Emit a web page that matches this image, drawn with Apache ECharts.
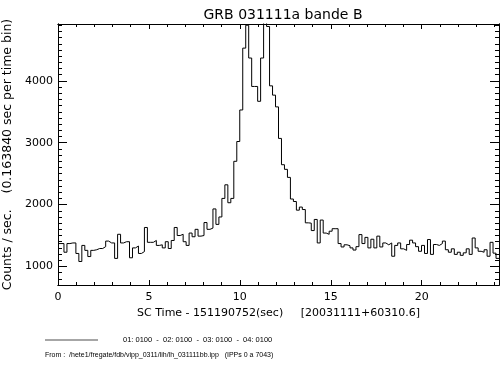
<!DOCTYPE html>
<html>
<head>
<meta charset="utf-8">
<script src="https://cdn.jsdelivr.net/npm/echarts@6/dist/echarts.min.js"></script>
<style>
  html, body { margin: 0; padding: 0; background: #ffffff; }
  #chart { width: 500px; height: 368px; }
</style>
</head>
<body>
<div id="chart"></div>
<script>
// time bin width in seconds
const binWidth = 0.16384;

// counts per second, one value per time bin
const counts = [
  1370, 1370, 1230, 1370, 1380, 1380, 1210, 1080, 1340, 1260,
  1160, 1260, 1270, 1290, 1290, 1320, 1410, 1380, 1380, 1130,
  1520, 1380, 1400, 1400, 1140, 1300, 1330, 1210, 1240, 1630,
  1390, 1390, 1420, 1340, 1350, 1300, 1400, 1290, 1420, 1630,
  1500, 1520, 1400, 1340, 1540, 1480, 1600, 1490, 1500, 1710,
  1600, 1620, 1930, 1680, 1800, 2100, 2320, 2030, 2100, 2700,
  3020, 3530, 4530, 4900, 4370, 3910, 3910, 3670, 4370, 5100,
  4880, 3920, 3770, 3580, 3070, 2645, 2570, 2440, 2090, 2050,
  1910, 1960, 1920, 1705, 1700, 1580, 1760, 1380, 1750, 1540,
  1520, 1570, 1610, 1610, 1370, 1315, 1350, 1335, 1300, 1265,
  1320, 1515, 1370, 1470, 1300, 1440, 1300, 1490, 1315, 1380,
  1350, 1380, 1165, 1340, 1380, 1285, 1260, 1355, 1425, 1380,
  1320, 1245, 1340, 1210, 1435, 1195, 1355, 1340, 1370, 1410,
  1270, 1230, 1285, 1195, 1230, 1180, 1220, 1285, 1195, 1460,
  1300, 1245, 1230, 1270, 1165, 1390, 1215, 1130
];

const yLabels = [1000, 2000, 3000, 4000];
const xLabels = [0, 5, 10, 15, 20];
const yMin = 700;
const yMax = 4920;
const xMax = counts.length * binWidth;

const titleText = "GRB 031111a bande B";
const xTitle = "SC Time - 151190752(sec)     [20031111+60310.6]";
const yTitle = "Counts / sec.    (0.163840 sec per time bin)";
const ippLine = "01: 0100  -  02: 0100  -  03: 0100  -  04: 0100";
const fromLine = "From :  /hete1/fregate/fdb/vipp_0311/lih/lh_031111bb.ipp   (IPPs 0 a 7043)";

// minor tick positions
const yMinor = [];
for (let v = 800; v < yMax; v += 100) {
  if (v % 1000 !== 0) yMinor.push(v);
}
const xMinor = [];
for (let v = 1; v < xMax; v += 1) {
  if (v % 5 !== 0) xMinor.push(v);
}

// step histogram points: bin start times, plus closing point for the last bin
const points = counts.map((c, i) => [i * binWidth, c]);
points.push([xMax, counts[counts.length - 1]]);

const font = "DejaVu Sans";
// onZero off, otherwise the left axes get shifted and their ticks flip outside
const axisLine = { show: true, onZero: false, lineStyle: { color: "#000", width: 1 } };
const gridBox = { left: 58, right: 1, top: 24, bottom: 83, containLabel: false, outerBoundsMode: "none" };

function yAxisDef(grid, position, ticks, len, labels) {
  return {
    type: "value",
    gridIndex: grid,
    position: position,
    min: yMin,
    max: yMax,
    axisLine: axisLine,
    splitLine: { show: false },
    axisTick: { show: true, inside: true, length: len, customValues: ticks,
      lineStyle: { color: "#000", width: 1 } },
    axisLabel: labels
      ? { show: true, customValues: yLabels, margin: 5, color: "#000",
          fontFamily: font, fontSize: 11, formatter: (v) => String(v) }
      : { show: false }
  };
}

function xAxisDef(grid, position, ticks, len, labels) {
  return {
    type: "value",
    gridIndex: grid,
    position: position,
    min: 0,
    max: xMax,
    axisLine: axisLine,
    splitLine: { show: false },
    axisTick: { show: true, inside: true, length: len, customValues: ticks,
      lineStyle: { color: "#000", width: 1 } },
    axisLabel: labels
      ? { show: true, customValues: xLabels, margin: 7, color: "#000",
          fontFamily: font, fontSize: 11, formatter: (v) => String(v) }
      : { show: false }
  };
}

const chart = echarts.init(document.getElementById("chart"));

const xMain = xAxisDef(0, "bottom", xLabels, 5, true);
xMain.name = xTitle;
xMain.nameLocation = "middle";
xMain.nameGap = 20;
xMain.nameTextStyle = { color: "#000", fontFamily: font, fontSize: 11 };

const yMain = yAxisDef(0, "left", yLabels, 9, true);
yMain.name = yTitle;
yMain.nameLocation = "middle";
yMain.nameGap = 37;
yMain.nameTextStyle = { color: "#000", fontFamily: font, fontSize: 12.5 };

const option = {
  backgroundColor: "#ffffff",
  animation: false,
  title: {
    text: titleText,
    left: 278,
    top: 3,
    textAlign: "center",
    textStyle: { color: "#000", fontFamily: font, fontSize: 14, fontWeight: "normal" }
  },
  // two grids on the same box: one carries major ticks, the other minor ticks
  grid: [gridBox, gridBox],
  xAxis: [
    xMain,
    xAxisDef(0, "top", xLabels, 5, false),
    xAxisDef(1, "bottom", xMinor, 3, false),
    xAxisDef(1, "top", xMinor, 3, false)
  ],
  yAxis: [
    yMain,
    yAxisDef(0, "right", yLabels, 9, false),
    yAxisDef(1, "left", yMinor, 4, false),
    yAxisDef(1, "right", yMinor, 4, false)
  ],
  series: [
    {
      type: "line",
      step: "end",
      data: points,
      xAxisIndex: 0,
      yAxisIndex: 0,
      showSymbol: false,
      clip: true,
      lineStyle: { color: "#000", width: 1 }
    }
  ],
  graphic: [
    {
      type: "line",
      shape: { x1: 45, y1: 340, x2: 98, y2: 340 },
      style: { stroke: "#888", lineWidth: 1.5 }
    },
    {
      type: "text",
      x: 123,
      y: 340,
      style: { text: ippLine, fill: "#000", font: "7.5px 'Liberation Sans'",
        verticalAlign: "middle" }
    },
    {
      type: "text",
      x: 45,
      y: 355,
      style: { text: fromLine, fill: "#000", font: "7px 'Liberation Sans'",
        verticalAlign: "middle" }
    }
  ]
};

chart.setOption(option);
</script>
</body>
</html>
